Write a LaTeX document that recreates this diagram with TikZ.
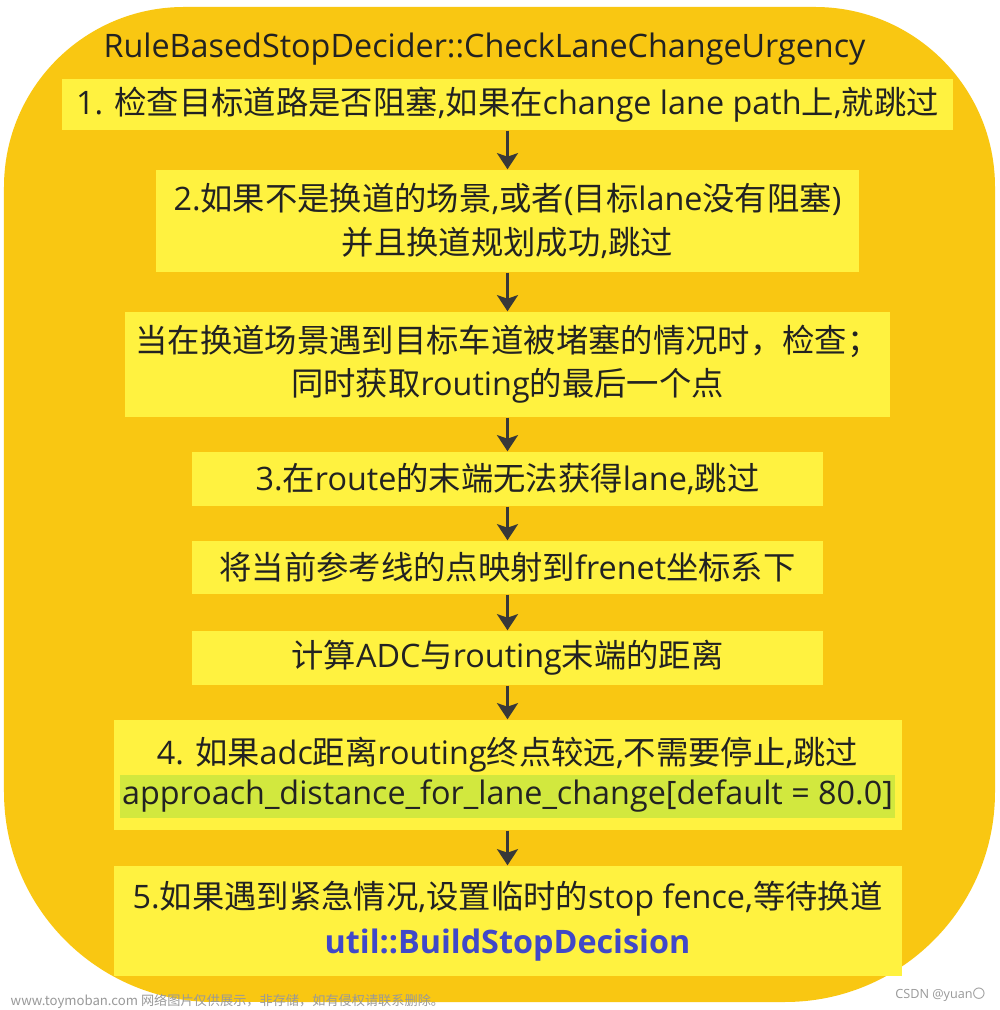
\documentclass[tikz,border=0pt]{standalone}
\usepackage{fontspec}
\setmainfont{Open Sans}
\newfontfamily\cjk{Noto Sans CJK SC}
\usetikzlibrary{arrows.meta}
\newcommand\zh[1]{{\cjk #1}}
\definecolor{bgorange}{RGB}{249,199,18}
\definecolor{boxyellow}{RGB}{255,242,64}
\definecolor{hilite}{RGB}{210,232,62}
\definecolor{fnblue}{RGB}{64,72,200}
\definecolor{ink}{RGB}{34,34,34}
\tikzset{
    stepbox/.style={fill=boxyellow, inner sep=0pt, align=center, text=ink,
        font=\fontsize{9.2}{12.3}\selectfont},
    flow/.style={-{Stealth[length=4.6pt,width=6pt,inset=1pt]}, line width=0.6pt, draw=ink!90},
    mark text/.style={text=gray!80, inner sep=0pt, font=\cjk\fontsize{3.75}{4}\selectfont}
}
\begin{document}
\begin{tikzpicture}
    \useasboundingbox (0,0) rectangle (10,10.1);
    \fill[white] (0,0) rectangle (10,10.1);
    % outer frame
    \fill[bgorange] (0.04,2.18) -- (0.04,8.23) arc[start angle=180,end angle=90,radius=1.8]
        -- (8.15,10.03) arc[start angle=90,end angle=0,radius=1.8]
        -- (9.95,2.18) arc[start angle=0,end angle=-90,radius=2.1]
        -- (2.14,0.08) arc[start angle=270,end angle=180,radius=2.1] -- cycle;
    \node[anchor=base, text=ink, font=\fontsize{9.2}{10}\selectfont] (title) at (4.845,9.52)
        {RuleBasedStopDecider::CheckLaneChangeUrgency};
    % steps
    \node[stepbox, minimum width=8.91cm, minimum height=0.51cm] (b1) at (5.075,9.055)
        {1. \zh{检查目标道路是否阻塞},\zh{如果在}change lane path\zh{上},\zh{就跳过}};
    \node[stepbox, minimum width=7.03cm, minimum height=1.02cm] (b2) at (5.075,7.89)
        {2.\zh{如果不是换道的场景},\zh{或者}(\zh{目标}lane\zh{没有阻塞})\\\zh{并且换道规划成功},\zh{跳过}};
    \node[stepbox, minimum width=7.65cm, minimum height=1.05cm] (b3) at (5.075,6.455)
        {\zh{当在换道场景遇到目标车道被堵塞的情况时，检查；}\\\zh{同时获取}routing\zh{的最后一个点}};
    \node[stepbox, minimum width=6.31cm, minimum height=0.54cm] (b4) at (5.075,5.31)
        {3.\zh{在}route\zh{的末端无法获得}lane,\zh{跳过}};
    \node[stepbox, minimum width=6.31cm, minimum height=0.53cm] (b5) at (5.075,4.425)
        {\zh{将当前参考线的点映射到}frenet\zh{坐标系下}};
    \node[stepbox, minimum width=6.31cm, minimum height=0.54cm] (b6) at (5.075,3.52)
        {\zh{计算}ADC\zh{与}routing\zh{末端的距离}};
    \node[stepbox, minimum width=7.88cm, minimum height=1.10cm] (b7) at (5.075,2.35) {};
    \node[stepbox, fill=none, anchor=base] (b7top) at (5.075,2.45)
        {4. \zh{如果}adc\zh{距离}routing\zh{终点较远},\zh{不需要停止},\zh{跳过}};
    \node[stepbox, fill=hilite, minimum width=7.75cm, minimum height=0.43cm] (b7arg) at (5.075,2.135)
        {approach\_distance\_for\_lane\_change[default = 80.0]};
    \node[stepbox, minimum width=7.88cm, minimum height=1.10cm, font=\fontsize{9.2}{12.8}\selectfont] (b8) at (5.075,0.89)
        {5.\zh{如果遇到紧急情况},\zh{设置临时的}stop fence,\zh{等待换道}\\
         \textcolor{fnblue}{\bfseries util::BuildStopDecision}};
    % arrows
    \foreach \a/\b in {b1/b2, b2/b3, b3/b4, b4/b5, b5/b6, b6/b7, b7/b8}{
        \draw[flow] (\a.south) -- (\b.north);
    }
    % watermarks
    \node[mark text, anchor=base west] (wm) at (0.10,0.05)
        {www.toymoban.com 网络图片仅供展示，非存储，如有侵权请联系删除。};
    \node[mark text, anchor=base east, font=\fontsize{3.6}{4}\selectfont] (csdn) at (9.86,0.12)
        {CSDN @yuan\zh{〇}};
\end{tikzpicture}
\end{document}
